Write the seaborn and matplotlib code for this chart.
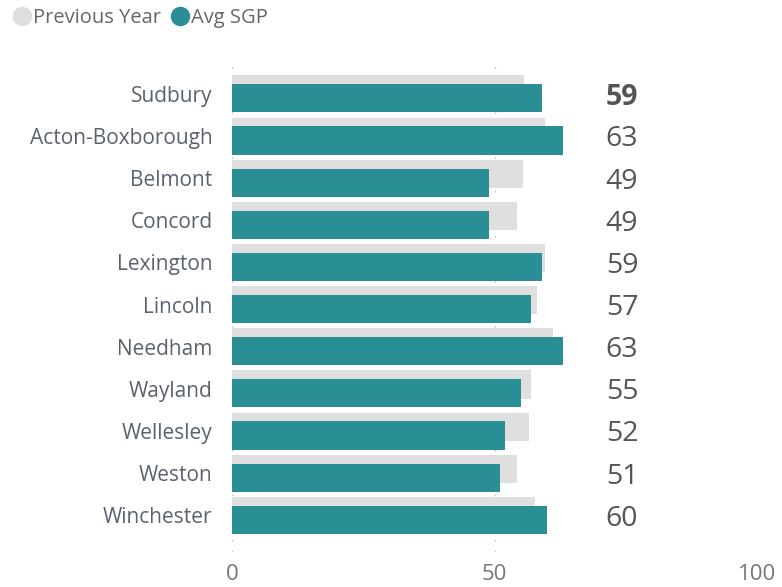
import matplotlib
matplotlib.use("Agg")
import matplotlib.pyplot as plt
from matplotlib.lines import Line2D
import seaborn as sns
import pandas as pd

# Data
towns = ["Sudbury", "Acton-Boxborough", "Belmont", "Concord", "Lexington",
         "Lincoln", "Needham", "Wayland", "Wellesley", "Weston", "Winchester"]
avg_sgp = [59, 63, 49, 49, 59, 57, 63, 55, 52, 51, 60]
previous_year = [55.6, 59.7, 55.5, 54.3, 59.6, 58.1, 61.2, 56.9, 56.6, 54.3, 57.8]
x_ticks = [0, 50, 100]
legend_labels = ["Previous Year", "Avg SGP"]

TEAL = "#2a8e95"
GRAY = "#dfdfdf"
LABEL_COLOR = "#5a6270"
VALUE_COLOR = "#555555"
TICK_COLOR = "#777777"

sns.set_theme(style="white")
plt.rcParams["font.family"] = ["Open Sans", "DejaVu Sans"]

df = pd.DataFrame({"Town": towns, "Avg SGP": avg_sgp, "Previous Year": previous_year})

W, H = 782, 587
fig = plt.figure(figsize=(W / 100, H / 100), dpi=100)
ax = fig.add_axes([232 / W, 1 - 552 / H, 525 / W, (552 - 65) / H])

BAR_H = 0.67
SHIFT = 0.105
n = len(towns)

# Previous-year bars sit slightly above and behind the current bars
sns.barplot(data=df, y="Town", x="Previous Year", color=GRAY, width=BAR_H,
            saturation=1, ax=ax, zorder=2)
for p in ax.patches[:n]:
    p.set_y(p.get_y() - SHIFT)
    p.set_linewidth(0)

sns.barplot(data=df, y="Town", x="Avg SGP", color=TEAL, width=BAR_H,
            saturation=1, ax=ax, zorder=3)
for p in ax.patches[n:]:
    p.set_y(p.get_y() + SHIFT)
    p.set_linewidth(0)

ax.set_xlim(0, 100)
ax.set_ylim(10.87, -0.686)
ax.set_xlabel("")
ax.set_ylabel("")

# Value labels on the right
for i, v in enumerate(avg_sgp):
    ax.text(71.2, i + 0.08, f"{v}", va="center", ha="left", fontsize=20.5,
            color=VALUE_COLOR, fontweight="bold" if i == 0 else "normal", zorder=4)

ax.set_xticks(x_ticks)
ax.set_xticklabels([str(t) for t in x_ticks], fontsize=16, color=TICK_COLOR)
ax.set_yticks(range(n))
ax.set_yticklabels(towns, fontsize=15, color=LABEL_COLOR)
ax.tick_params(axis="x", length=0, pad=8.5)
ax.tick_params(axis="y", length=0, pad=14)

ax.grid(axis="x", linestyle=(0, (1, 8)), color="#b0b0b0", linewidth=0.9)
ax.grid(axis="y", visible=False)
ax.set_axisbelow(True)
for s in ax.spines.values():
    s.set_visible(False)

handles = [Line2D([], [], marker="o", linestyle="", markersize=13,
                  markerfacecolor=c, markeredgecolor=c) for c in (GRAY, TEAL)]
leg = fig.legend(handles, legend_labels, loc="upper left", bbox_to_anchor=(0.006, 1.0),
                 ncol=2, frameon=False, fontsize=14.5, handlelength=0.9,
                 handletextpad=0.1, columnspacing=0.5, borderaxespad=0.2,
                 borderpad=0.2)
for t in leg.get_texts():
    t.set_color("#666666")

fig.savefig("out.png", dpi=100)
